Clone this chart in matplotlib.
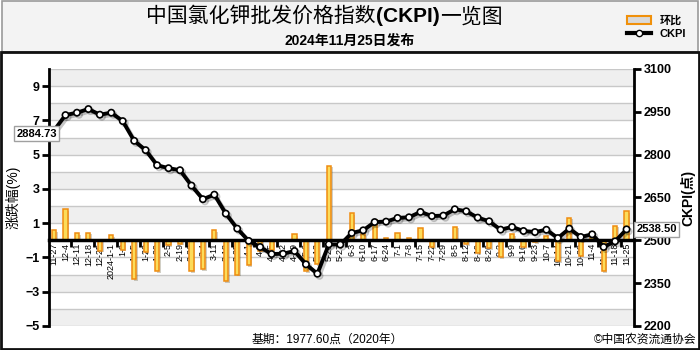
import matplotlib
matplotlib.use('Agg')
import matplotlib.pyplot as plt
import matplotlib.patheffects as pe
from matplotlib.patches import Rectangle, Patch
from matplotlib.lines import Line2D
import numpy as np

plt.rcParams['font.family'] = ['Liberation Sans', 'Noto Sans CJK SC']

# weekly release dates (2023-11-27 .. 2024-11-25)
dates = ['11-27', '12-4', '12-11', '12-18', '12-25', '2024-1-1', '1-8', '1-15', '1-22', '1-29',
         '2-5', '2-19', '2-26', '3-4', '3-11', '3-18', '3-25', '4-1', '4-8', '4-15',
         '4-22', '4-29', '5-6', '5-13', '5-20', '5-27', '6-3', '6-10', '6-17', '6-24',
         '7-1', '7-8', '7-15', '7-22', '7-29', '8-5', '8-12', '8-19', '8-26', '9-2',
         '9-9', '9-16', '9-23', '10-7', '10-14', '10-21', '10-28', '11-4', '11-11', '11-18',
         '11-25']

# week-on-week change (%)
change = [0.6, 1.8, 0.4, 0.45, -0.6, 0.3, -0.55, -2.25, -0.7, -1.8,
          -0.3, -0.2, -1.8, -1.7, 0.6, -2.4, -2.0, -1.45, -0.6, -0.55,
          0.02, 0.35, -1.8, -1.4, 4.35, -0.05, 1.6, 0.35, 1.2, 0.12,
          0.42, 0.14, 0.72, -0.4, 0.04, 0.8, -0.23, -0.75, -0.45, -1.0,
          0.35, -0.4, -0.1, 0.25, -1.2, 1.32, -0.9, 0.5, -1.8, 0.85,
          1.7]

# CKPI index (points)
ckpi = [2884.73, 2938.60, 2947.00, 2959.70, 2940.00, 2947.00, 2917.50, 2848.50, 2815.80, 2763.00,
        2752.60, 2745.60, 2691.80, 2644.00, 2660.00, 2593.60, 2541.00, 2498.00, 2476.60, 2452.00,
        2453.00, 2462.60, 2416.00, 2383.00, 2486.00, 2485.00, 2525.70, 2535.00, 2564.00, 2565.50,
        2578.40, 2580.70, 2599.40, 2585.00, 2586.50, 2608.80, 2601.80, 2579.50, 2566.70, 2537.40,
        2546.80, 2532.70, 2529.00, 2537.00, 2508.00, 2541.00, 2511.70, 2521.00, 2476.60, 2496.50,
        2538.50]

fig = plt.figure(figsize=(7, 3.5), dpi=100)
fig.patch.set_facecolor('white')

# header box + frame (kept underneath the axes layer)
fig.patches.append(Rectangle((0.003, 0.852), 0.994, 0.144, transform=fig.transFigure,
                             fc='#f3f3f3', ec='#9a9a9a', lw=1.2, zorder=-1))
fig.patches.append(Rectangle((0.002, 0.004), 0.996, 0.848, transform=fig.transFigure,
                             fc='none', ec='#111111', lw=2, zorder=-1))

ax = fig.add_axes([0.07, 0.0686, 0.8357, 0.7343])
x = np.arange(len(dates))

for k in range(-5, 10):
    if k % 2 == 1 and k != -1:
        ax.axhspan(k, k + 1, color='#efefef', zorder=0, lw=0)
for k in range(-5, 11):
    ax.axhline(k, color='#c8c8c8', lw=1, zorder=0.5)

ax.bar(x, change, width=0.36, fc='#fcdc5a', ec='#ef8c10', lw=1.1, zorder=2,
       path_effects=[pe.SimplePatchShadow(offset=(1.2, -1.2), alpha=0.25), pe.Normal()])

ax.set_xlim(-0.44, 50.65)
ax.set_ylim(-5, 10)
ax.set_yticks([-5, -3, -1, 1, 3, 5, 7, 9])
ax.spines['top'].set_visible(False)
ax.spines['right'].set_visible(False)
ax.spines['bottom'].set_position(('data', 0))
ax.spines['bottom'].set_linewidth(2.5)
ax.spines['left'].set_linewidth(2)
ax.spines['bottom'].set_zorder(2.5)

ax.set_xticks(x, dates, rotation=90, fontsize=6.5)
ax.tick_params(axis='x', which='major', length=0, pad=2)
ax.set_xticks(np.arange(1.5, 50, 2), minor=True)
ax.tick_params(axis='x', which='minor', length=5, width=2, direction='out')
ax.tick_params(axis='y', length=5, width=2, labelsize=9, pad=2)
for lbl in ax.get_yticklabels():
    lbl.set_fontweight('bold')
ax.set_ylabel('涨跌幅(%)', fontsize=10, labelpad=3)

ax2 = ax.twinx()
ax2.patch.set_visible(False)
ax2.plot(x, ckpi, color='black', lw=2.8, marker='o', ms=4.5, mfc='white', mec='black', mew=1.2,
         zorder=3, path_effects=[pe.SimpleLineShadow(offset=(1.5, -1.5), alpha=0.22), pe.Normal()])
ax2.set_ylim(2200, 3100)
ax2.set_yticks(range(2200, 3101, 150))
for s in ['left', 'top', 'bottom']:
    ax2.spines[s].set_visible(False)
ax2.spines['right'].set_linewidth(2)
ax2.tick_params(axis='y', length=5, width=2, labelsize=9, pad=2)
for lbl in ax2.get_yticklabels():
    lbl.set_fontweight('bold')
ax2.set_ylabel('CKPI(点)', fontsize=10, fontweight='bold', labelpad=6)

box = dict(boxstyle='square,pad=0.22', fc='white', ec='#a0a0a0', lw=1)
ax2.annotate(f'{ckpi[0]:.2f}', xy=(x[0], ckpi[0]), xytext=(2, -2.5), textcoords='offset points',
             ha='right', va='center', fontsize=8, fontweight='bold', bbox=box,
             zorder=5, annotation_clip=False, clip_on=False)
ax2.annotate(f'{ckpi[-1]:.2f}', xy=(x[-1], ckpi[-1]), xytext=(7, 0), textcoords='offset points',
             ha='left', va='center', fontsize=8, fontweight='bold', bbox=box,
             zorder=5, annotation_clip=False, clip_on=False)

# title in three parts so "(CKPI)" is bold
t1 = fig.text(0.209, 0.925, '中国氯化钾批发价格指数', fontsize=15, ha='left', va='bottom')
t2 = ax.annotate('(CKPI)', xy=(1, 0), xycoords=t1, fontsize=15, fontweight='bold',
                 ha='left', va='bottom', annotation_clip=False, clip_on=False)
ax.annotate('一览图', xy=(1, 0), xycoords=t2, fontsize=15, ha='left', va='bottom',
            annotation_clip=False, clip_on=False)
fig.text(0.5, 0.885, '2024年11月25日发布', fontsize=10, fontweight='bold', ha='center', va='center')

handles = [Patch(fc='#d9d9d9', ec='#f0900a', lw=1.5),
           Line2D([], [], color='black', lw=3, marker='o', ms=4.5, mfc='white', mec='black')]
fig.legend(handles, ['环比', 'CKPI'], loc='upper right', bbox_to_anchor=(0.995, 0.985),
           frameon=False, handlelength=2.2, handleheight=0.8, labelspacing=0.3,
           handletextpad=0.8, prop={'weight': 'bold', 'size': 8})

fig.text(0.467, 0.03, '基期：1977.60点（2020年）', fontsize=8.5, ha='center', va='center')
fig.text(0.995, 0.03, '©中国农资流通协会', fontsize=8.5, ha='right', va='center')

fig.savefig('out.png', dpi=100)
